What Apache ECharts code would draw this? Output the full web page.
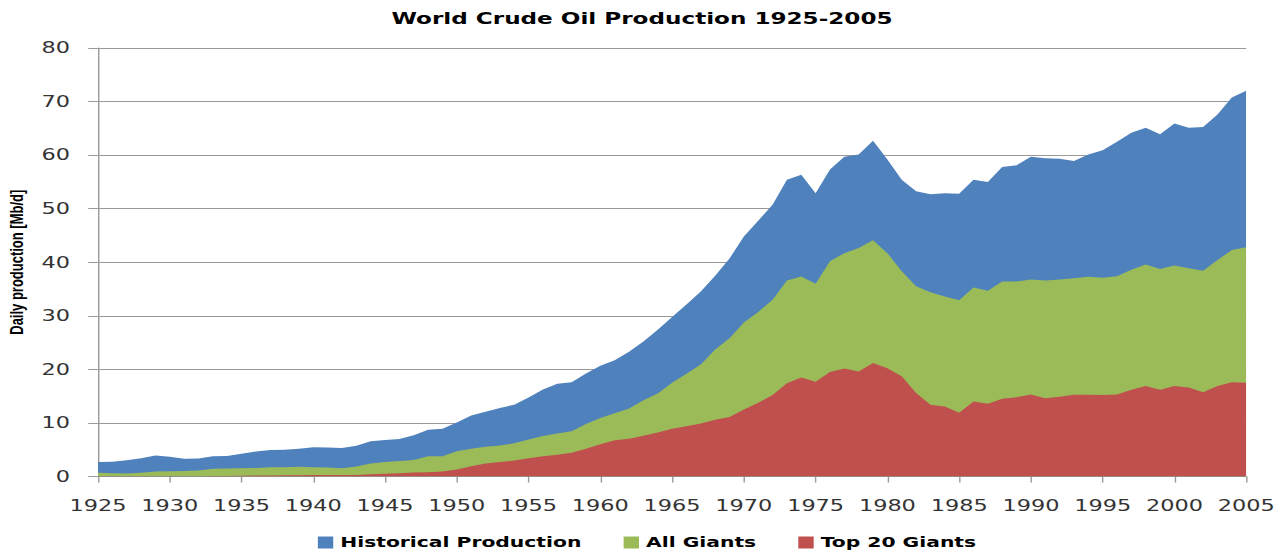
<!DOCTYPE html>
<html>
<head>
<meta charset="utf-8">
<title>World Crude Oil Production 1925-2005</title>
<script src="https://cdn.jsdelivr.net/npm/echarts@6/dist/echarts.min.js"></script>
<style>
  html, body { margin: 0; padding: 0; background: #fff; overflow: hidden; }
  /* the reference is a horizontally stretched excel chart, so draw narrow and stretch */
  #chart { width: 917px; height: 552px; transform: scaleX(1.4002); transform-origin: 0 0; }
</style>
</head>
<body>
<div id="chart"></div>
<script>
// years on the x axis
const years = [];
for (let y = 1925; y <= 2005; y++) years.push(String(y));

// daily production, Mb/d
const historical = [
  2.7, 2.75, 3.05, 3.4, 3.9, 3.7, 3.3, 3.35, 3.8, 3.85,
  4.25, 4.65, 4.95, 5.0, 5.2, 5.45, 5.4, 5.3, 5.75, 6.6,
  6.8, 7.0, 7.7, 8.75, 8.9, 10.1, 11.4, 12.1, 12.8, 13.4,
  14.75, 16.25, 17.3, 17.6, 19.25, 20.7, 21.7, 23.3, 25.2, 27.4,
  29.8, 32.1, 34.55, 37.5, 40.7, 44.8, 47.75, 50.75, 55.4, 56.35,
  52.9, 57.3, 59.7, 60.1, 62.7, 59.2, 55.4, 53.25, 52.7, 52.9,
  52.8, 55.4, 55.0, 57.8, 58.1, 59.7, 59.4, 59.3, 58.9, 60.1,
  60.9, 62.5, 64.2, 65.1, 63.9, 65.9, 65.1, 65.25, 67.6, 70.75,
  72.0
];
const allGiants = [
  0.7, 0.6, 0.55, 0.7, 0.95, 1.0, 1.05, 1.1, 1.45, 1.5,
  1.55, 1.6, 1.75, 1.75, 1.8, 1.75, 1.7, 1.55, 1.85, 2.45,
  2.7, 2.9, 3.1, 3.8, 3.8, 4.7, 5.2, 5.55, 5.8, 6.2,
  6.9, 7.55, 8.05, 8.45, 9.8, 10.9, 11.8, 12.7, 14.25, 15.5,
  17.5, 19.2, 20.9, 23.7, 25.8, 28.75, 30.7, 33.0, 36.6, 37.35,
  36.0, 40.2, 41.7, 42.65, 44.1, 41.7, 38.3, 35.5, 34.4, 33.6,
  32.9, 35.3, 34.7, 36.4, 36.4, 36.8, 36.6, 36.8, 37.0, 37.3,
  37.1, 37.4, 38.6, 39.6, 38.75, 39.4, 38.9, 38.4, 40.4, 42.3,
  42.8
];
const top20Giants = [
  0.05, 0.05, 0.05, 0.05, 0.05, 0.05, 0.05, 0.05, 0.08, 0.1,
  0.15, 0.18, 0.2, 0.22, 0.25, 0.3, 0.3, 0.28, 0.3, 0.4,
  0.5, 0.6, 0.75, 0.8, 0.95, 1.3, 1.9, 2.45, 2.7, 3.0,
  3.4, 3.8, 4.05, 4.45, 5.2, 6.0, 6.75, 7.05, 7.6, 8.2,
  8.9, 9.4, 9.9, 10.6, 11.1, 12.5, 13.75, 15.2, 17.4, 18.5,
  17.7, 19.5, 20.15, 19.6, 21.2, 20.2, 18.7, 15.6, 13.4, 13.05,
  11.9, 14.0, 13.6, 14.5, 14.8, 15.3, 14.6, 14.9, 15.25, 15.25,
  15.2, 15.3, 16.2, 16.9, 16.2, 16.9, 16.6, 15.75, 16.9, 17.6,
  17.5
];

const colors = ['#4F81BD', '#9BBB59', '#C0504D'];
const names = ['Historical Production', 'All Giants', 'Top 20 Giants'];

const chart = echarts.init(document.getElementById('chart'), null, { renderer: 'svg' });

function area(name, data, color) {
  return {
    name: name,
    type: 'line',
    data: data,
    symbol: 'none',
    lineStyle: { width: 0 },
    areaStyle: { color: color, opacity: 1 },
    itemStyle: { color: color },
    animation: false
  };
}

chart.setOption({
  title: {
    text: 'World Crude Oil Production 1925-2005',
    left: 'center',
    top: 5,
    textStyle: { fontFamily: 'DejaVu Sans', fontWeight: 'bold', fontSize: 16.5, color: '#000' }
  },
  legend: {
    data: names,
    top: 530,
    left: 222,
    icon: 'rect',
    itemWidth: 11,
    itemHeight: 12,
    itemGap: 30,
    textStyle: { fontFamily: 'DejaVu Sans', fontWeight: 'bold', fontSize: 14.5, color: '#000' }
  },
  grid: { left: 70, right: 27, top: 48, bottom: 75.5, outerBoundsMode: 'none' },
  xAxis: {
    type: 'category',
    data: years,
    boundaryGap: false,
    axisLine: { lineStyle: { color: '#999' } },
    axisTick: { interval: 4, length: 6, lineStyle: { color: '#999' } },
    axisLabel: { interval: 4, margin: 21, fontFamily: 'DejaVu Sans', fontSize: 16, color: '#333' }
  },
  yAxis: {
    type: 'value',
    min: 0,
    max: 80,
    interval: 10,
    name: 'Daily production [Mb/d]',
    nameLocation: 'middle',
    nameGap: 46,
    nameTextStyle: { fontFamily: 'Liberation Sans', fontWeight: 'bold', fontSize: 13, color: '#000' },
    axisLine: { show: true, lineStyle: { color: '#999' } },
    axisTick: { show: true, length: 7, lineStyle: { color: '#999' } },
    axisLabel: { margin: 20, fontFamily: 'DejaVu Sans', fontSize: 16, color: '#333' },
    splitLine: { lineStyle: { color: '#999', width: 1 } }
  },
  series: [
    area(names[0], historical, colors[0]),
    area(names[1], allGiants, colors[1]),
    area(names[2], top20Giants, colors[2])
  ]
});
</script>
</body>
</html>
